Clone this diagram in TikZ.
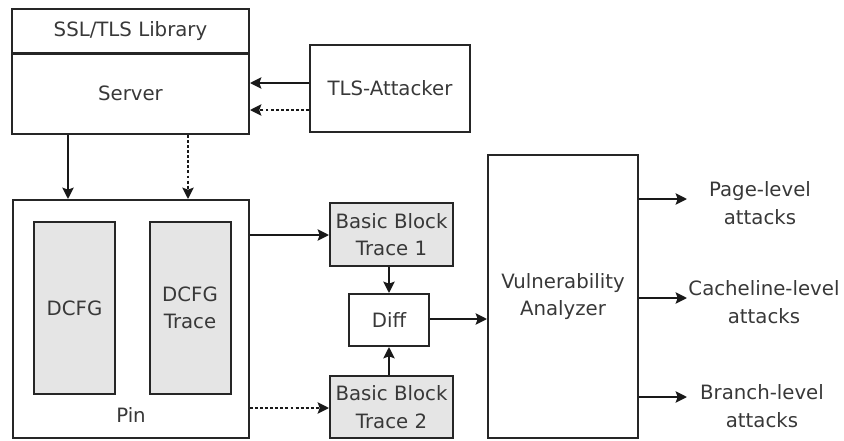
\documentclass[tikz,border=0pt]{standalone}
\usepackage{fontspec}
\setmainfont{DejaVu Sans}
\usetikzlibrary{arrows.meta,calc}
\newcommand{\boxfont}{\fontsize{14.8}{20.5}\selectfont}

\begin{document}
\begin{tikzpicture}[
    x=0.75pt, y=-0.75pt,
    box/.style={draw=black!85, line width=1.5pt, inner sep=0pt, align=center, text=black!78, font=\boxfont},
    graybox/.style={box, fill=black!10},
    txt/.style={inner sep=0pt, align=center, text=black!78, font=\boxfont},
    arr/.style={-{Stealth[length=8.5pt,width=8.5pt,inset=1.5pt]}, line width=1.5pt, draw=black!90},
    dotarr/.style={arr, dash pattern=on 2.2pt off 1.6pt}
]
    \useasboundingbox (0,0) rectangle (844,440);
    \clip (0,0) rectangle (844,440);

    % --- Server side ---
    \node[box, minimum width=177.75pt, minimum height=33.75pt] (lib) at (130.5,31) {SSL/TLS Library};
    \node[box, minimum width=177.75pt, minimum height=60.75pt] (srv) at (130.5,93.5) {Server};
    \node[box, minimum width=120pt, minimum height=65.25pt] (att) at (390,88.5) {TLS-Attacker};
    \draw[arr] (att.west |- 0,83) -- (srv.east |- 0,83);
    \draw[dotarr] (att.west |- 0,110) -- (srv.east |- 0,110);

    % --- Pin ---
    \node[box, minimum width=177pt, minimum height=178.5pt] (pin) at (131,319) {};
    \node[graybox, minimum width=60.75pt, minimum height=129pt] (dcfg) at (74.5,308) {DCFG};
    \node[graybox, minimum width=60.75pt, minimum height=129pt] (dtrace) at (190,308) {DCFG\\Trace};
    \node[txt] (pinlbl) at (131,415) {Pin};
    \draw[arr] (srv.south -| 68,0) -- (pin.north -| 68,0);
    \draw[dotarr] (srv.south -| 188,0) -- (pin.north -| 188,0);

    % --- Basic block traces ---
    \node[graybox, minimum width=92.25pt, minimum height=47.25pt] (bb1) at (391.5,234.5) {Basic Block\\Trace 1};
    \node[box, minimum width=60pt, minimum height=39pt] (diff) at (389,320) {Diff};
    \node[graybox, minimum width=92.25pt, minimum height=46.5pt] (bb2) at (391.5,407) {Basic Block\\Trace 2};
    \draw[arr] (pin.east |- 0,235) -- (bb1.west |- 0,235);
    \draw[dotarr] (pin.east |- 0,408) -- (bb2.west |- 0,408);
    \draw[arr] (bb1.south -| diff.north) -- (diff.north);
    \draw[arr] (bb2.north -| diff.south) -- (diff.south);

    % --- Analyzer ---
    \node[box, minimum width=112.5pt, minimum height=212.25pt] (va) at (563,296.5) {Vulnerability\\Analyzer};
    \draw[arr] (diff.east |- 0,319) -- (va.west |- 0,319);

    \node[txt] (page) at (760,203) {Page-level\\attacks};
    \node[txt] (cache) at (764,302) {Cacheline-level\\attacks};
    \node[txt] (branch) at (762,406) {Branch-level\\attacks};
    \coordinate (pageend) at (687,199);
    \coordinate (cacheend) at (687,298);
    \coordinate (branchend) at (687,397);
    \draw[arr] (va.east |- pageend) -- (pageend);
    \draw[arr] (va.east |- cacheend) -- (cacheend);
    \draw[arr] (va.east |- branchend) -- (branchend);
\end{tikzpicture}
\end{document}
